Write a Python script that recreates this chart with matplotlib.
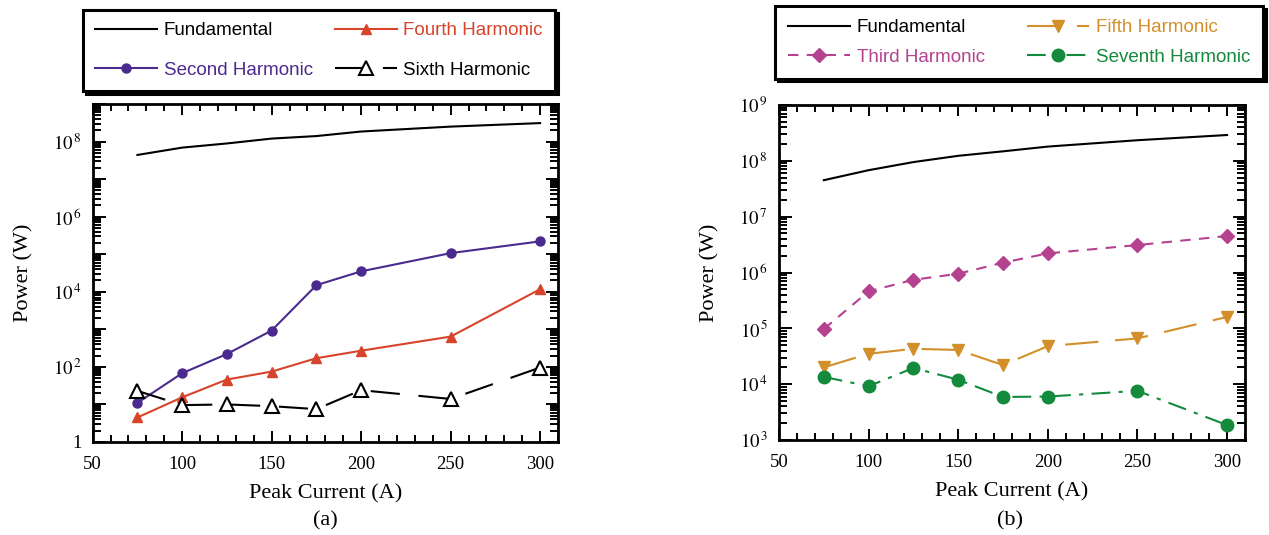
import matplotlib
matplotlib.use("Agg")
import matplotlib.pyplot as plt
from matplotlib.ticker import FixedLocator, LogLocator, FuncFormatter, NullFormatter
import numpy as np

# ---------------- data ----------------
current = [75, 100, 125, 150, 175, 200, 250, 300]

fund_a = [4.4e7, 6.9e7, 8.9e7, 1.2e8, 1.4e8, 1.85e8, 2.5e8, 3.1e8]
second_a = [11, 68, 220, 930, 1.5e4, 3.5e4, 1.07e5, 2.2e5]
fourth_a = [4.5, 15.5, 46, 75, 170, 270, 640, 1.17e4]
sixth_a = [23, 9.6, 10, 9, 7.5, 24, 14, 96]

fund_b = [4.5e7, 6.8e7, 9.5e7, 1.23e8, 1.48e8, 1.8e8, 2.34e8, 2.9e8]
third_b = [9.7e4, 4.6e5, 7.4e5, 9.5e5, 1.5e6, 2.2e6, 3.1e6, 4.5e6]
fifth_b = [2.0e4, 3.5e4, 4.3e4, 4.1e4, 2.2e4, 4.8e4, 6.6e4, 1.6e5]
seventh_b = [1.35e4, 9.2e3, 1.95e4, 1.2e4, 5.9e3, 6.0e3, 7.6e3, 1.85e3]

xlabel = "Peak Current (A)"
ylabel = "Power (W)"

# ---------------- style ----------------
plt.rcParams['mathtext.fontset'] = 'stix'
SERIF = 'Liberation Serif'
SANS = 'Liberation Sans'

C_RED = '#d8432c'
C_PUR = '#4a2a8e'
C_MAG = '#b4428f'
C_ORA = '#d38f2a'
C_GRN = '#138a3c'

W, H = 1269, 535
fig = plt.figure(figsize=(W / 100, H / 100), dpi=100)


def axes_px(x0, y0, x1, y1):
    return fig.add_axes([x0 / W, 1 - y1 / H, (x1 - x0) / W, (y1 - y0) / H])


ax_a = axes_px(92.7, 104, 558, 442)
ax_b = axes_px(779, 105, 1245, 440)


def sci_fmt(v, pos):
    e = int(round(np.log10(v)))
    if e == 0:
        return '1'
    return r'$10^{\,%d}$' % e


def style_axes(ax, ylim, label_exps):
    ax.set_yscale('log')
    ax.set_xlim(50, 310)
    ax.set_ylim(*ylim)
    ax.xaxis.set_major_locator(FixedLocator([50, 100, 150, 200, 250, 300]))
    ax.xaxis.set_minor_locator(FixedLocator(np.arange(50, 311, 10)))
    lo, hi = int(np.log10(ylim[0])), int(np.log10(ylim[1]))
    ax.yaxis.set_major_locator(FixedLocator([10.0 ** e for e in range(lo, hi + 1)]))
    ax.yaxis.set_minor_locator(LogLocator(base=10, subs=np.arange(2, 10), numticks=20))
    ax.yaxis.set_minor_formatter(NullFormatter())
    ax.yaxis.set_major_formatter(FuncFormatter(
        lambda v, p: sci_fmt(v, p) if int(round(np.log10(v))) in label_exps else ''))
    ax.tick_params(which='both', direction='in', top=True, right=True, width=1.4)
    ax.tick_params(axis='x', which='major', length=8, pad=10)
    ax.tick_params(axis='x', which='minor', length=5)
    ax.tick_params(axis='y', which='major', length=9, pad=8)
    ax.tick_params(axis='y', which='minor', length=5.5)
    for lab in ax.get_xticklabels() + ax.get_yticklabels():
        lab.set_fontfamily(SERIF)
        lab.set_fontsize(13.5)
    for s in ax.spines.values():
        s.set_linewidth(2.0)
    ax.set_xlabel(xlabel, fontfamily=SERIF, fontsize=16, labelpad=8)
    ax.set_ylabel(ylabel, fontfamily=SERIF, fontsize=16, labelpad=14)


# ---------------- panel (a) ----------------
ax_a.plot(current, fund_a, color='black', lw=1.5, label='Fundamental')
ax_a.plot(current, second_a, color=C_PUR, lw=1.5, marker='o', ms=6.5, label='Second Harmonic')
ax_a.plot(current, fourth_a, color=C_RED, lw=1.5, marker='^', ms=7, label='Fourth Harmonic')
ax_a.plot(current, sixth_a, color='black', lw=1.5, dashes=(14, 9), marker='^', ms=10,
          mfc='white', mec='black', mew=1.5, label='Sixth Harmonic')
style_axes(ax_a, (1, 1e9), [0, 2, 4, 6, 8])

# ---------------- panel (b) ----------------
ax_b.plot(current, fund_b, color='black', lw=1.5, label='Fundamental')
ax_b.plot(current, third_b, color=C_MAG, lw=1.5, dashes=(5, 4), marker='D', ms=7, label='Third Harmonic')
ax_b.plot(current, fifth_b, color=C_ORA, lw=1.5, dashes=(16, 8), marker='v', ms=9, label='Fifth Harmonic')
ax_b.plot(current, seventh_b, color=C_GRN, lw=1.5, dashes=(9, 4, 2, 4), marker='o', ms=9, label='Seventh Harmonic')
style_axes(ax_b, (1e3, 1e9), [3, 4, 5, 6, 7, 8, 9])


def make_legend(ax, box, spacing, bpad):
    x0, y0, x1, y1 = box
    leg = ax.legend(loc='upper left', bbox_to_anchor=(x0 / W, 1 - y1 / H, (x1 - x0) / W, (y1 - y0) / H),
                    bbox_transform=fig.transFigure, mode='expand', ncol=2, frameon=True,
                    fancybox=False, shadow={'color': 'black', 'alpha': 1.0},
                    prop={'family': SANS, 'size': 13.5}, labelcolor='linecolor',
                    handlelength=3.3, handletextpad=0.35, labelspacing=spacing,
                    borderpad=bpad, borderaxespad=0, columnspacing=1.0)
    leg.get_frame().set_edgecolor('black')
    leg.get_frame().set_linewidth(2.2)
    return leg


make_legend(ax_a, (83, 10, 555, 88), 1.2, 0.65)
make_legend(ax_b, (775, 6, 1263, 78), 0.65, 0.7)

fig.text(325 / W, 1 - 521 / H, '(a)', ha='center', va='center', fontfamily=SERIF, fontsize=16)
fig.text(1010 / W, 1 - 521 / H, '(b)', ha='center', va='center', fontfamily=SERIF, fontsize=16)

fig.savefig('out.png', dpi=100)
